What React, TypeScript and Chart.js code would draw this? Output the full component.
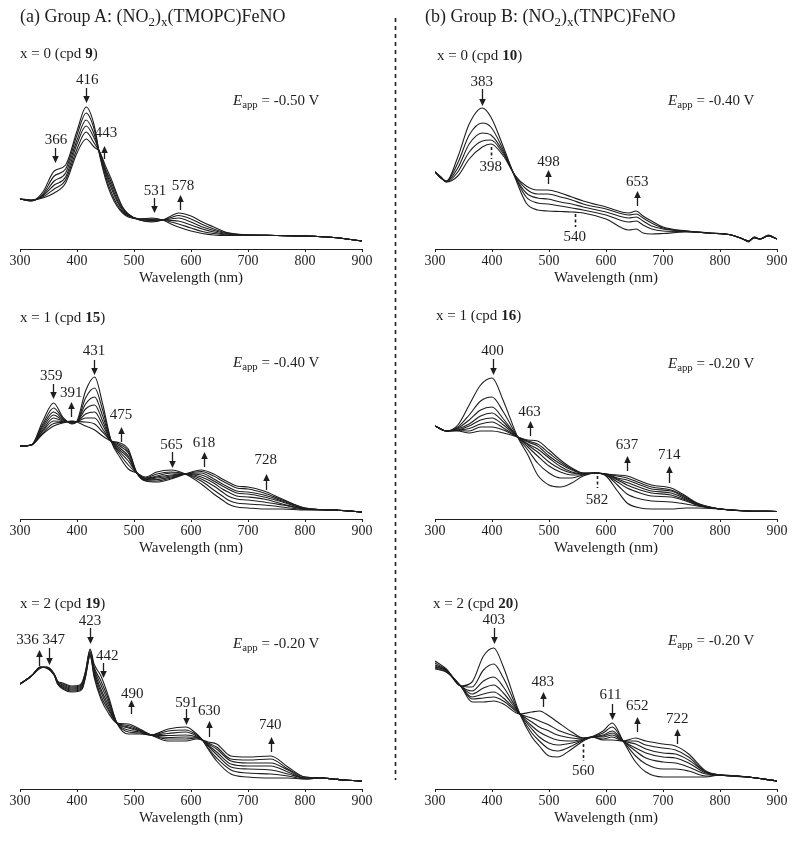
import React, { useEffect, useRef } from "react";
import { Chart, registerables } from "chart.js";

Chart.register(...registerables);

const FONT = "'Liberation Serif', 'Times New Roman', Times, serif";
const INK = "#1e1e1e";

// ---------- (a) Group A, x = 0 (cpd 9) ----------
const wlA0 = [300, 320, 340, 360, 380, 400, 416, 430, 440, 450, 460, 470, 480, 490, 510, 531, 550, 565, 578, 600, 620, 640, 660, 680, 700, 750, 800, 850, 900];
const specA0 = [
  [0.50, 0.48, 0.57, 0.78, 0.84, 1.18, 1.42, 1.24, 0.93, 0.70, 0.54, 0.43, 0.36, 0.32, 0.30, 0.31, 0.29, 0.25, 0.22, 0.18, 0.155, 0.14, 0.135, 0.135, 0.14, 0.135, 0.13, 0.115, 0.08],
  [0.50, 0.48, 0.55, 0.73, 0.80, 1.14, 1.36, 1.20, 0.94, 0.73, 0.57, 0.45, 0.37, 0.33, 0.30, 0.30, 0.29, 0.27, 0.25, 0.21, 0.175, 0.155, 0.142, 0.138, 0.14, 0.135, 0.13, 0.115, 0.08],
  [0.50, 0.485, 0.54, 0.68, 0.76, 1.09, 1.29, 1.15, 0.95, 0.76, 0.61, 0.48, 0.385, 0.335, 0.30, 0.295, 0.29, 0.285, 0.28, 0.24, 0.20, 0.17, 0.15, 0.142, 0.14, 0.135, 0.13, 0.115, 0.08],
  [0.50, 0.485, 0.53, 0.64, 0.72, 1.05, 1.23, 1.11, 0.96, 0.78, 0.64, 0.50, 0.40, 0.34, 0.295, 0.285, 0.29, 0.30, 0.31, 0.27, 0.22, 0.185, 0.158, 0.145, 0.14, 0.135, 0.13, 0.115, 0.08],
  [0.50, 0.49, 0.52, 0.60, 0.69, 1.00, 1.17, 1.06, 0.965, 0.80, 0.67, 0.53, 0.41, 0.345, 0.29, 0.278, 0.29, 0.315, 0.335, 0.30, 0.245, 0.20, 0.165, 0.148, 0.14, 0.135, 0.13, 0.115, 0.08],
  [0.50, 0.49, 0.51, 0.56, 0.66, 0.96, 1.10, 1.02, 0.97, 0.83, 0.70, 0.55, 0.42, 0.35, 0.29, 0.27, 0.29, 0.33, 0.36, 0.33, 0.27, 0.22, 0.17, 0.15, 0.14, 0.135, 0.13, 0.115, 0.08],
];
const marksA0 = [
  { at: 416, text: "416", tx: 418, ty: 1.69, from: 1.61, to: 1.46 },
  { at: 361, text: "366", tx: 363, ty: 1.09, from: 1.01, to: 0.86 },
  { at: 448, text: "443", tx: 451, ty: 1.16, from: 0.90, to: 1.03 },
  { at: 535, text: "531", tx: 537, ty: 0.58, from: 0.51, to: 0.36 },
  { at: 580, text: "578", tx: 586, ty: 0.63, from: 0.39, to: 0.54 },
];

// ---------- (b) Group B, x = 0 (cpd 10) ----------
const wlB0 = [300, 310, 320, 340, 360, 383, 398, 420, 440, 460, 480, 498, 520, 540, 560, 600, 640, 653, 665, 680, 700, 740, 780, 820, 840, 850, 860, 870, 885, 900];
const specB0 = [
  [0.77, 0.71, 0.68, 0.92, 1.25, 1.41, 1.32, 1.02, 0.72, 0.46, 0.39, 0.38, 0.375, 0.37, 0.36, 0.30, 0.19, 0.20, 0.16, 0.15, 0.155, 0.17, 0.16, 0.14, 0.10, 0.07, 0.12, 0.10, 0.14, 0.10],
  [0.77, 0.71, 0.68, 0.86, 1.14, 1.26, 1.22, 0.99, 0.73, 0.52, 0.46, 0.45, 0.43, 0.41, 0.39, 0.34, 0.27, 0.28, 0.24, 0.20, 0.18, 0.175, 0.16, 0.14, 0.10, 0.075, 0.12, 0.10, 0.135, 0.10],
  [0.77, 0.72, 0.675, 0.81, 1.05, 1.16, 1.14, 0.97, 0.73, 0.56, 0.51, 0.50, 0.47, 0.45, 0.42, 0.37, 0.31, 0.32, 0.28, 0.23, 0.20, 0.18, 0.16, 0.14, 0.10, 0.08, 0.115, 0.10, 0.13, 0.10],
  [0.77, 0.72, 0.67, 0.77, 0.97, 1.08, 1.09, 0.95, 0.74, 0.60, 0.55, 0.55, 0.52, 0.49, 0.45, 0.40, 0.34, 0.35, 0.31, 0.26, 0.21, 0.18, 0.16, 0.14, 0.10, 0.08, 0.11, 0.10, 0.13, 0.10],
  [0.77, 0.72, 0.67, 0.73, 0.90, 1.02, 1.05, 0.93, 0.74, 0.63, 0.59, 0.59, 0.56, 0.52, 0.48, 0.42, 0.36, 0.38, 0.33, 0.28, 0.22, 0.18, 0.16, 0.14, 0.10, 0.08, 0.11, 0.10, 0.13, 0.10],
];
const marksB0 = [
  { at: 382, text: "383", tx: 382, ty: 1.67, from: 1.60, to: 1.43 },
  { at: 398, text: "398", tx: 398, ty: 0.82, from: 1.02, to: 0.90, dashed: true },
  { at: 499, text: "498", tx: 499, ty: 0.87, from: 0.65, to: 0.79 },
  { at: 655, text: "653", tx: 655, ty: 0.67, from: 0.43, to: 0.58 },
  { at: 545, text: "540", tx: 545, ty: 0.12, from: 0.35, to: 0.22, dashed: true },
];

// ---------- (a) Group A, x = 1 (cpd 15) ----------
const wlA1 = [300, 320, 340, 359, 375, 391, 400, 415, 431, 445, 460, 475, 490, 505, 520, 540, 565, 590, 618, 640, 655, 665, 680, 700, 728, 760, 800, 850, 900];
const specA1 = [
  [0.73, 0.74, 0.98, 1.16, 1.02, 0.95, 0.98, 1.28, 1.42, 1.15, 0.78, 0.62, 0.50, 0.46, 0.42, 0.47, 0.49, 0.45, 0.35, 0.25, 0.19, 0.15, 0.12, 0.11, 0.10, 0.10, 0.09, 0.09, 0.07],
  [0.73, 0.74, 0.95, 1.11, 1.01, 0.956, 0.975, 1.21, 1.31, 1.09, 0.78, 0.65, 0.54, 0.46, 0.41, 0.45, 0.47, 0.45, 0.38, 0.29, 0.23, 0.19, 0.16, 0.15, 0.14, 0.12, 0.095, 0.09, 0.07],
  [0.73, 0.74, 0.93, 1.07, 1.00, 0.961, 0.975, 1.15, 1.22, 1.03, 0.78, 0.67, 0.58, 0.46, 0.405, 0.43, 0.46, 0.45, 0.40, 0.33, 0.27, 0.23, 0.20, 0.19, 0.17, 0.14, 0.10, 0.09, 0.07],
  [0.73, 0.74, 0.91, 1.04, 0.99, 0.966, 0.975, 1.10, 1.14, 0.98, 0.78, 0.69, 0.61, 0.46, 0.40, 0.42, 0.44, 0.45, 0.42, 0.36, 0.30, 0.27, 0.23, 0.22, 0.20, 0.15, 0.10, 0.09, 0.07],
  [0.73, 0.74, 0.89, 1.01, 0.98, 0.97, 0.975, 1.05, 1.07, 0.94, 0.78, 0.71, 0.63, 0.46, 0.395, 0.41, 0.43, 0.45, 0.44, 0.38, 0.33, 0.30, 0.26, 0.25, 0.22, 0.17, 0.105, 0.09, 0.07],
  [0.73, 0.74, 0.88, 0.98, 0.975, 0.973, 0.975, 1.01, 1.01, 0.90, 0.78, 0.73, 0.66, 0.46, 0.39, 0.395, 0.42, 0.45, 0.46, 0.40, 0.35, 0.32, 0.28, 0.27, 0.24, 0.18, 0.105, 0.09, 0.07],
  [0.73, 0.74, 0.86, 0.955, 0.965, 0.977, 0.975, 0.97, 0.95, 0.87, 0.78, 0.745, 0.68, 0.46, 0.385, 0.38, 0.41, 0.45, 0.475, 0.43, 0.38, 0.35, 0.31, 0.30, 0.26, 0.19, 0.11, 0.09, 0.07],
  [0.73, 0.74, 0.85, 0.93, 0.96, 0.98, 0.97, 0.93, 0.89, 0.83, 0.78, 0.76, 0.70, 0.46, 0.38, 0.37, 0.40, 0.45, 0.49, 0.45, 0.40, 0.37, 0.33, 0.32, 0.28, 0.20, 0.11, 0.09, 0.07],
];
const marksA1 = [
  { at: 430, text: "431", tx: 430, ty: 1.68, from: 1.59, to: 1.44 },
  { at: 358, text: "359", tx: 355, ty: 1.43, from: 1.35, to: 1.20 },
  { at: 389, text: "391", tx: 390, ty: 1.26, from: 1.02, to: 1.17 },
  { at: 477, text: "475", tx: 477, ty: 1.04, from: 0.77, to: 0.92 },
  { at: 566, text: "565", tx: 566, ty: 0.74, from: 0.67, to: 0.51 },
  { at: 623, text: "618", tx: 623, ty: 0.76, from: 0.52, to: 0.67 },
  { at: 731, text: "728", tx: 731, ty: 0.59, from: 0.29, to: 0.45 },
];

// ---------- (b) Group B, x = 1 (cpd 16) ----------
const wlB1 = [300, 320, 340, 360, 380, 400, 420, 445, 463, 480, 500, 520, 540, 560, 582, 600, 620, 637, 660, 680, 714, 740, 760, 800, 850, 900];
const specB1 = [
  [0.93, 0.88, 0.94, 1.14, 1.34, 1.41, 1.18, 0.82, 0.64, 0.44, 0.34, 0.32, 0.36, 0.43, 0.46, 0.43, 0.28, 0.16, 0.11, 0.10, 0.10, 0.11, 0.11, 0.10, 0.08, 0.075],
  [0.93, 0.88, 0.92, 1.04, 1.18, 1.22, 1.07, 0.82, 0.69, 0.56, 0.46, 0.41, 0.41, 0.44, 0.46, 0.44, 0.34, 0.25, 0.20, 0.18, 0.17, 0.15, 0.13, 0.10, 0.08, 0.075],
  [0.93, 0.88, 0.91, 0.99, 1.09, 1.12, 1.00, 0.82, 0.72, 0.63, 0.53, 0.47, 0.44, 0.445, 0.46, 0.44, 0.37, 0.31, 0.26, 0.23, 0.22, 0.18, 0.14, 0.10, 0.08, 0.075],
  [0.93, 0.88, 0.90, 0.95, 1.03, 1.06, 0.97, 0.82, 0.74, 0.67, 0.57, 0.50, 0.46, 0.45, 0.46, 0.44, 0.39, 0.34, 0.29, 0.26, 0.24, 0.19, 0.14, 0.10, 0.08, 0.075],
  [0.93, 0.88, 0.89, 0.93, 0.99, 1.01, 0.94, 0.82, 0.75, 0.70, 0.61, 0.525, 0.47, 0.45, 0.46, 0.445, 0.40, 0.365, 0.315, 0.28, 0.26, 0.20, 0.15, 0.10, 0.08, 0.075],
  [0.93, 0.88, 0.89, 0.905, 0.95, 0.97, 0.91, 0.82, 0.77, 0.73, 0.63, 0.55, 0.49, 0.455, 0.46, 0.45, 0.41, 0.39, 0.34, 0.30, 0.28, 0.21, 0.15, 0.10, 0.08, 0.075],
  [0.93, 0.88, 0.885, 0.88, 0.92, 0.92, 0.89, 0.82, 0.78, 0.75, 0.66, 0.57, 0.50, 0.46, 0.46, 0.45, 0.43, 0.41, 0.36, 0.32, 0.29, 0.22, 0.155, 0.10, 0.08, 0.075],
  [0.93, 0.88, 0.88, 0.86, 0.88, 0.88, 0.86, 0.82, 0.79, 0.78, 0.69, 0.59, 0.51, 0.46, 0.46, 0.45, 0.44, 0.43, 0.38, 0.34, 0.31, 0.23, 0.16, 0.10, 0.08, 0.075],
];
const marksB1 = [
  { at: 401, text: "400", tx: 401, ty: 1.68, from: 1.60, to: 1.44 },
  { at: 466, text: "463", tx: 466, ty: 1.07, from: 0.83, to: 0.98 },
  { at: 637, text: "637", tx: 637, ty: 0.74, from: 0.48, to: 0.63 },
  { at: 711, text: "714", tx: 711, ty: 0.64, from: 0.36, to: 0.53 },
  { at: 584, text: "582", tx: 584, ty: 0.19, from: 0.43, to: 0.31, dashed: true },
];

// ---------- (a) Group A, x = 2 (cpd 19) ----------
const wlA2 = [300, 320, 336, 347, 360, 366, 375, 390, 405, 410, 415, 423, 430, 442, 455, 470, 490, 510, 530, 560, 591, 610, 620, 630, 645, 670, 700, 740, 770, 800, 830, 850, 870, 900];
const specA2 = [
  [1.05, 1.13, 1.21, 1.22, 1.15, 1.08, 1.06, 1.03, 1.04, 1.08, 1.18, 1.40, 1.25, 1.13, 0.93, 0.66, 0.55, 0.55, 0.54, 0.60, 0.62, 0.55, 0.49, 0.40, 0.28, 0.15, 0.12, 0.11, 0.11, 0.10, 0.11, 0.10, 0.09, 0.08],
  [1.05, 1.13, 1.21, 1.22, 1.15, 1.07, 1.05, 1.02, 1.03, 1.07, 1.17, 1.39, 1.22, 1.08, 0.90, 0.66, 0.57, 0.56, 0.54, 0.58, 0.59, 0.54, 0.49, 0.41, 0.31, 0.19, 0.16, 0.15, 0.13, 0.10, 0.11, 0.10, 0.09, 0.08],
  [1.05, 1.13, 1.215, 1.215, 1.145, 1.07, 1.04, 1.01, 1.02, 1.05, 1.16, 1.37, 1.20, 1.04, 0.87, 0.66, 0.59, 0.57, 0.54, 0.555, 0.57, 0.53, 0.49, 0.43, 0.345, 0.22, 0.20, 0.19, 0.15, 0.11, 0.11, 0.10, 0.09, 0.08],
  [1.05, 1.13, 1.215, 1.215, 1.145, 1.06, 1.03, 1.00, 1.01, 1.04, 1.15, 1.36, 1.18, 1.00, 0.84, 0.66, 0.61, 0.58, 0.54, 0.535, 0.54, 0.52, 0.49, 0.44, 0.37, 0.25, 0.23, 0.23, 0.17, 0.11, 0.11, 0.10, 0.09, 0.08],
  [1.05, 1.13, 1.22, 1.21, 1.14, 1.06, 1.02, 0.99, 1.00, 1.03, 1.14, 1.35, 1.16, 0.97, 0.81, 0.66, 0.62, 0.585, 0.54, 0.515, 0.52, 0.515, 0.49, 0.45, 0.40, 0.28, 0.26, 0.26, 0.19, 0.11, 0.11, 0.10, 0.09, 0.08],
  [1.05, 1.13, 1.22, 1.21, 1.14, 1.05, 1.01, 0.98, 0.99, 1.02, 1.13, 1.34, 1.14, 0.93, 0.79, 0.66, 0.635, 0.59, 0.54, 0.50, 0.50, 0.51, 0.49, 0.46, 0.42, 0.30, 0.29, 0.30, 0.20, 0.12, 0.11, 0.10, 0.09, 0.08],
  [1.05, 1.13, 1.22, 1.21, 1.14, 1.05, 1.00, 0.97, 0.98, 1.01, 1.12, 1.33, 1.12, 0.90, 0.76, 0.66, 0.65, 0.60, 0.54, 0.48, 0.48, 0.50, 0.49, 0.47, 0.45, 0.33, 0.32, 0.33, 0.22, 0.12, 0.11, 0.10, 0.09, 0.08],
];
const marksA2 = [
  { at: 423, text: "423", tx: 423, ty: 1.68, from: 1.61, to: 1.45 },
  { at: 334, text: "336", tx: 313, ty: 1.49, from: 1.23, to: 1.39 },
  { at: 350, text: "347", tx: 359, ty: 1.49, from: 1.41, to: 1.24 },
  { at: 445, text: "442", tx: 453, ty: 1.33, from: 1.26, to: 1.11 },
  { at: 494, text: "490", tx: 497, ty: 0.95, from: 0.75, to: 0.89 },
  { at: 592, text: "591", tx: 592, ty: 0.86, from: 0.80, to: 0.64 },
  { at: 632, text: "630", tx: 632, ty: 0.78, from: 0.52, to: 0.68 },
  { at: 741, text: "740", tx: 739, ty: 0.64, from: 0.37, to: 0.52 },
];

// ---------- (b) Group B, x = 2 (cpd 20) ----------
const wlB2 = [300, 320, 345, 365, 385, 403, 420, 449, 470, 483, 500, 515, 540, 560, 575, 595, 611, 630, 652, 670, 700, 722, 745, 775, 800, 850, 900];
const specB2 = [
  [1.28, 1.20, 1.03, 1.07, 1.33, 1.41, 1.22, 0.75, 0.52, 0.43, 0.33, 0.32, 0.40, 0.48, 0.52, 0.58, 0.66, 0.48, 0.27, 0.17, 0.12, 0.12, 0.12, 0.12, 0.14, 0.12, 0.08],
  [1.26, 1.19, 1.03, 1.02, 1.19, 1.25, 1.11, 0.75, 0.56, 0.48, 0.40, 0.38, 0.43, 0.49, 0.52, 0.56, 0.62, 0.48, 0.33, 0.25, 0.20, 0.20, 0.18, 0.13, 0.14, 0.12, 0.08],
  [1.24, 1.19, 1.03, 0.98, 1.08, 1.12, 1.02, 0.75, 0.60, 0.52, 0.46, 0.44, 0.46, 0.49, 0.52, 0.54, 0.58, 0.48, 0.38, 0.31, 0.27, 0.26, 0.22, 0.15, 0.14, 0.12, 0.08],
  [1.23, 1.18, 1.03, 0.95, 1.01, 1.04, 0.96, 0.75, 0.63, 0.57, 0.52, 0.49, 0.48, 0.50, 0.52, 0.53, 0.56, 0.48, 0.41, 0.36, 0.32, 0.31, 0.26, 0.16, 0.14, 0.12, 0.08],
  [1.22, 1.18, 1.03, 0.92, 0.95, 0.97, 0.91, 0.75, 0.67, 0.62, 0.58, 0.54, 0.51, 0.50, 0.52, 0.52, 0.54, 0.48, 0.45, 0.40, 0.36, 0.35, 0.29, 0.17, 0.14, 0.12, 0.08],
  [1.21, 1.17, 1.03, 0.90, 0.91, 0.92, 0.88, 0.75, 0.71, 0.68, 0.64, 0.59, 0.54, 0.51, 0.52, 0.50, 0.52, 0.48, 0.48, 0.44, 0.41, 0.39, 0.32, 0.17, 0.14, 0.12, 0.08],
  [1.20, 1.17, 1.03, 0.87, 0.87, 0.88, 0.85, 0.75, 0.77, 0.78, 0.73, 0.67, 0.57, 0.51, 0.52, 0.49, 0.49, 0.48, 0.51, 0.48, 0.45, 0.43, 0.35, 0.18, 0.14, 0.12, 0.08],
];
const marksB2 = [
  { at: 403, text: "403", tx: 403, ty: 1.69, from: 1.61, to: 1.45 },
  { at: 490, text: "483", tx: 489, ty: 1.07, from: 0.82, to: 0.97 },
  { at: 610, text: "611", tx: 608, ty: 0.94, from: 0.85, to: 0.69 },
  { at: 655, text: "652", tx: 655, ty: 0.83, from: 0.57, to: 0.72 },
  { at: 725, text: "722", tx: 725, ty: 0.70, from: 0.45, to: 0.60 },
  { at: 560, text: "560", tx: 560, ty: 0.18, from: 0.45, to: 0.28, dashed: true },
];

const X_TICKS_MIN = 300;
const X_TICKS_MAX = 900;
const Y_MAX = 1.9;

type Mark = { at: number; text: string; tx: number; ty: number; from: number; to: number; dashed?: boolean };

function markPlugin(marks: Mark[]) {
  return {
    id: "peakMarks",
    afterDatasetsDraw(chart: any) {
      const { ctx } = chart;
      const xs = chart.scales.x;
      const ys = chart.scales.y;
      ctx.save();
      ctx.strokeStyle = INK;
      ctx.fillStyle = INK;
      ctx.font = `15px ${FONT}`;
      ctx.textAlign = "center";
      ctx.textBaseline = "middle";
      for (const m of marks) {
        const px = Math.round(xs.getPixelForValue(m.at)) + 0.5;
        const y1 = ys.getPixelForValue(m.from);
        const y2 = ys.getPixelForValue(m.to);
        if (m.dashed) {
          ctx.lineWidth = 1.6;
          ctx.setLineDash([3, 2.5]);
          ctx.beginPath();
          ctx.moveTo(px, y1);
          ctx.lineTo(px, y2);
          ctx.stroke();
          ctx.setLineDash([]);
        } else {
          const dir = Math.sign(y2 - y1);
          const head = 7;
          ctx.lineWidth = 1.3;
          ctx.beginPath();
          ctx.moveTo(px, y1);
          ctx.lineTo(px, y2 - dir * head);
          ctx.stroke();
          ctx.beginPath();
          ctx.moveTo(px, y2);
          ctx.lineTo(px - 3.3, y2 - dir * head);
          ctx.lineTo(px + 3.3, y2 - dir * head);
          ctx.closePath();
          ctx.fill();
        }
        ctx.fillText(m.text, xs.getPixelForValue(m.tx), ys.getPixelForValue(m.ty));
      }
      ctx.restore();
    },
  };
}

type PanelProps = {
  left: number;
  top: number;
  width: number;
  padL: number;
  padR: number;
  wl: number[];
  spectra: number[][];
  marks: Mark[];
};

const CANVAS_H = 230;
const AXIS_BOX = 40;

function Panel({ left, top, width, padL, padR, wl, spectra, marks }: PanelProps) {
  const ref = useRef<HTMLCanvasElement>(null);
  useEffect(() => {
    if (!ref.current) return;
    const chart = new Chart(ref.current, {
      type: "line",
      data: {
        datasets: spectra.map((s) => ({
          data: wl.map((x, i) => ({ x, y: s[i] })),
          borderColor: INK,
          borderWidth: 1.1,
          pointRadius: 0,
          fill: false,
          cubicInterpolationMode: "monotone" as const,
        })),
      },
      options: {
        responsive: false,
        animation: false,
        devicePixelRatio: 1,
        layout: { padding: { left: padL, right: padR, top: 0, bottom: 0 } },
        plugins: { legend: { display: false }, tooltip: { enabled: false } },
        events: [],
        scales: {
          x: {
            type: "linear",
            min: X_TICKS_MIN,
            max: X_TICKS_MAX,
            ticks: {
              stepSize: 100,
              color: INK,
              font: { family: FONT, size: 14 },
              padding: 1,
              maxRotation: 0,
              autoSkip: false,
            },
            grid: { drawOnChartArea: false, drawTicks: true, tickLength: 3, color: INK },
            border: { display: true, color: INK, width: 1 },
            title: {
              display: true,
              text: "Wavelength (nm)",
              color: INK,
              font: { family: FONT, size: 15 },
              padding: { top: 0, bottom: 2 },
            },
            afterFit: (s: any) => {
              s.height = AXIS_BOX;
            },
          },
          y: { display: false, min: 0, max: Y_MAX },
        },
      },
      plugins: [markPlugin(marks)],
    } as any);
    return () => chart.destroy();
  }, []);
  return (
    <canvas
      ref={ref}
      width={width}
      height={CANVAS_H}
      style={{ position: "absolute", left, top, width, height: CANVAS_H }}
    />
  );
}

function Txt({ left, cy, size, children }: { left: number; cy: number; size: number; children: React.ReactNode }) {
  const lh = Math.round(size * 1.3);
  return (
    <div
      style={{
        position: "absolute",
        left,
        top: cy - lh / 2,
        fontSize: size,
        lineHeight: `${lh}px`,
        whiteSpace: "nowrap",
      }}
    >
      {children}
    </div>
  );
}

const Sub = ({ children }: { children: React.ReactNode }) => (
  <span style={{ fontSize: "0.72em", verticalAlign: "-0.32em", lineHeight: 0 }}>{children}</span>
);

function Eapp({ v }: { v: string }) {
  return (
    <>
      <i>E</i>
      <Sub>app</Sub> = {v}
    </>
  );
}

const ROW_TOPS = [59, 329, 599];

export default function App() {
  const panels: PanelProps[] = [
    { left: 0, top: ROW_TOPS[0], width: 390, padL: 20, padR: 28, wl: wlA0, spectra: specA0, marks: marksA0 },
    { left: 400, top: ROW_TOPS[0], width: 400, padL: 35, padR: 23, wl: wlB0, spectra: specB0, marks: marksB0 },
    { left: 0, top: ROW_TOPS[1], width: 390, padL: 20, padR: 28, wl: wlA1, spectra: specA1, marks: marksA1 },
    { left: 400, top: ROW_TOPS[1], width: 400, padL: 35, padR: 23, wl: wlB1, spectra: specB1, marks: marksB1 },
    { left: 0, top: ROW_TOPS[2], width: 390, padL: 20, padR: 28, wl: wlA2, spectra: specA2, marks: marksA2 },
    { left: 400, top: ROW_TOPS[2], width: 400, padL: 35, padR: 23, wl: wlB2, spectra: specB2, marks: marksB2 },
  ];
  return (
    <div
      style={{
        position: "absolute",
        left: 0,
        top: 0,
        width: 800,
        height: 841,
        background: "#fff",
        color: INK,
        fontFamily: FONT,
        overflow: "hidden",
      }}
    >
      {panels.map((p, i) => (
        <Panel key={i} {...p} />
      ))}
      <svg width={800} height={841} style={{ position: "absolute", left: 0, top: 0, pointerEvents: "none" }}>
        <line x1={395.5} y1={18} x2={395.5} y2={780} stroke={INK} strokeWidth={1.6} strokeDasharray="4 4" />
      </svg>
      <Txt left={20} cy={16} size={18}>
        (a) Group A: (NO<Sub>2</Sub>)<Sub>x</Sub>(TMOPC)FeNO
      </Txt>
      <Txt left={425} cy={16} size={18}>
        (b) Group B: (NO<Sub>2</Sub>)<Sub>x</Sub>(TNPC)FeNO
      </Txt>
      <Txt left={20} cy={53} size={15}>
        x = 0 (cpd <b>9</b>)
      </Txt>
      <Txt left={437} cy={55} size={15}>
        x = 0 (cpd <b>10</b>)
      </Txt>
      <Txt left={20} cy={317} size={15}>
        x = 1 (cpd <b>15</b>)
      </Txt>
      <Txt left={436} cy={315} size={15}>
        x = 1 (cpd <b>16</b>)
      </Txt>
      <Txt left={20} cy={603} size={15}>
        x = 2 (cpd <b>19</b>)
      </Txt>
      <Txt left={433} cy={603} size={15}>
        x = 2 (cpd <b>20</b>)
      </Txt>
      <Txt left={233} cy={100} size={15}>
        <Eapp v="-0.50 V" />
      </Txt>
      <Txt left={668} cy={100} size={15}>
        <Eapp v="-0.40 V" />
      </Txt>
      <Txt left={233} cy={362} size={15}>
        <Eapp v="-0.40 V" />
      </Txt>
      <Txt left={668} cy={363} size={15}>
        <Eapp v="-0.20 V" />
      </Txt>
      <Txt left={233} cy={643} size={15}>
        <Eapp v="-0.20 V" />
      </Txt>
      <Txt left={668} cy={640} size={15}>
        <Eapp v="-0.20 V" />
      </Txt>
    </div>
  );
}
